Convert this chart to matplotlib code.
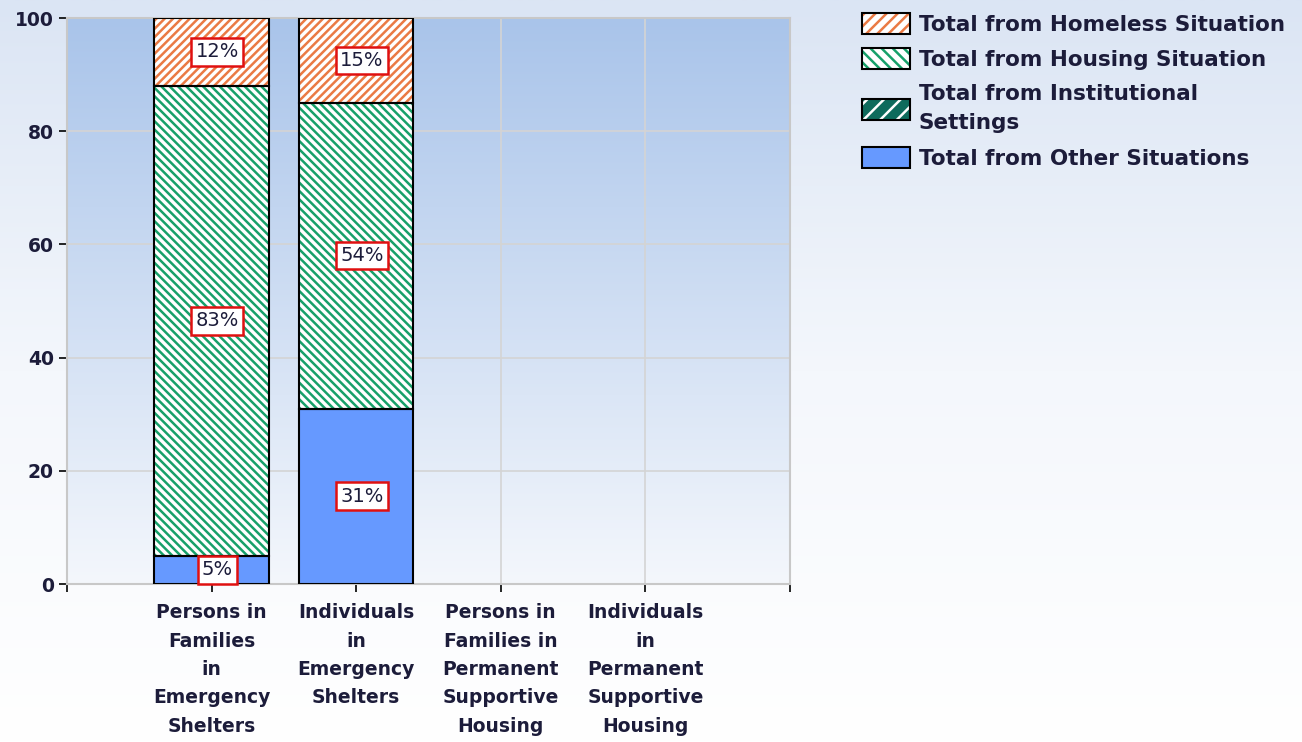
import numpy as np
import matplotlib
matplotlib.use("Agg")
import matplotlib.pyplot as plt
from matplotlib.patches import Patch
from matplotlib.colors import LinearSegmentedColormap
from matplotlib.legend_handler import HandlerTuple

# Data (percent of each group)
categories = ["Persons in\nFamilies\nin\nEmergency\nShelters",
              "Individuals\nin\nEmergency\nShelters",
              "Persons in\nFamilies in\nPermanent\nSupportive\nHousing",
              "Individuals\nin\nPermanent\nSupportive\nHousing"]
other = [5, 31, 0, 0]
institutional = [0, 0, 0, 0]
housing = [83, 54, 0, 0]
homeless = [12, 15, 0, 0]

series_names = ["Total from Homeless Situation", "Total from Housing Situation",
                "Total from Institutional\nSettings", "Total from Other Situations"]

plt.rcParams["hatch.linewidth"] = 1.8
text_col = "#1c1c3a"

fig = plt.figure(figsize=(13.02, 7.42), dpi=100)

# figure background gradient (white bottom -> light blue top)
bg = fig.add_axes([0, 0, 1, 1], zorder=-10)
grad = np.linspace(0, 1, 256).reshape(-1, 1)
bg.imshow(grad, aspect="auto", extent=[0, 1, 0, 1], origin="lower",
          cmap=LinearSegmentedColormap.from_list("f", ["#ffffff", "#f4f7fc", "#dbe5f4"]))
bg.axis("off")

ax = fig.add_axes([67 / 1302, 1 - 584 / 742, 723 / 1302, 566 / 742])
ax.imshow(grad, aspect="auto", extent=[-1, 4, 0, 100], zorder=0, origin="lower",
          cmap=LinearSegmentedColormap.from_list("a", ["#f4f7fc", "#a9c4ea"]))

x = np.arange(len(categories))
w = 0.79
bottom = np.zeros(len(categories))
hom_hatch = "////"
hou_hatch = "\\\\\\\\"
layers = [(other, "#6699ff", "#6699ff", ""),
          (institutional, "#0e6b5c", "white", "///"),
          (housing, "white", "#17a06a", hou_hatch),
          (homeless, "white", "#ea7a44", hom_hatch)]
for vals, fc, hc, hatch in layers:
    vals = np.array(vals, dtype=float)
    m = vals > 0
    if m.any():
        ax.bar(x[m], vals[m], w, bottom=bottom[m], color=fc, edgecolor=hc, hatch=hatch,
               linewidth=0, zorder=2)
        ax.bar(x[m], vals[m], w, bottom=bottom[m], fill=False, edgecolor="black",
               linewidth=1.5, zorder=3)
    for xi, v, b in zip(x, vals, bottom):
        if v > 0:
            ax.text(xi + 0.04, b + v / 2, "%d%%" % v, ha="center", va="center",
                    fontsize=14, color=text_col, zorder=5,
                    bbox=dict(boxstyle="square,pad=0.22", fc="white", ec="#e01010", lw=1.8))
    bottom += vals

ax.set_xlim(-1, 4)
ax.set_ylim(0, 100)
ax.set_xticks(np.arange(-1, 5))
ax.set_xticklabels([""] + categories + [""], fontsize=13.5, fontweight="bold",
                   color=text_col, linespacing=1.62)
ax.set_yticks(np.arange(0, 101, 20))
ax.set_yticklabels([str(v) for v in range(0, 101, 20)], fontsize=13.5,
                   fontweight="bold", color=text_col)
ax.tick_params(axis="y", length=6, width=1.2)
ax.tick_params(axis="x", length=6, width=1.2, pad=8)
ax.grid(True, color="#d4d4d4", linewidth=1.2, zorder=1)
ax.set_axisbelow(True)
for s in ax.spines.values():
    s.set_color("#c8c8c8")
    s.set_linewidth(1.5)

outline = dict(fill=False, edgecolor="black", lw=1.5)
handles = [(Patch(facecolor="white", edgecolor="#ea7a44", hatch="///", lw=0), Patch(**outline)),
           (Patch(facecolor="white", edgecolor="#17a06a", hatch="\\\\\\", lw=0), Patch(**outline)),
           (Patch(facecolor="#0e6b5c", edgecolor="white", hatch="//", lw=0), Patch(**outline)),
           (Patch(facecolor="#6699ff", edgecolor="black", lw=1.5),)]
leg = fig.legend(handles, series_names, loc="upper left", bbox_to_anchor=(849 / 1302, 1.0),
                 frameon=False, prop=dict(size=15.5, weight="bold"),
                 handlelength=2.25, handleheight=1.1, handletextpad=0.4,
                 labelspacing=0.64, borderaxespad=0.2,
                 handler_map={tuple: HandlerTuple(ndivide=1, pad=0)})
for t in leg.get_texts():
    t.set_color(text_col)
    t.set_linespacing(1.6)

fig.savefig("out.png", dpi=100)
